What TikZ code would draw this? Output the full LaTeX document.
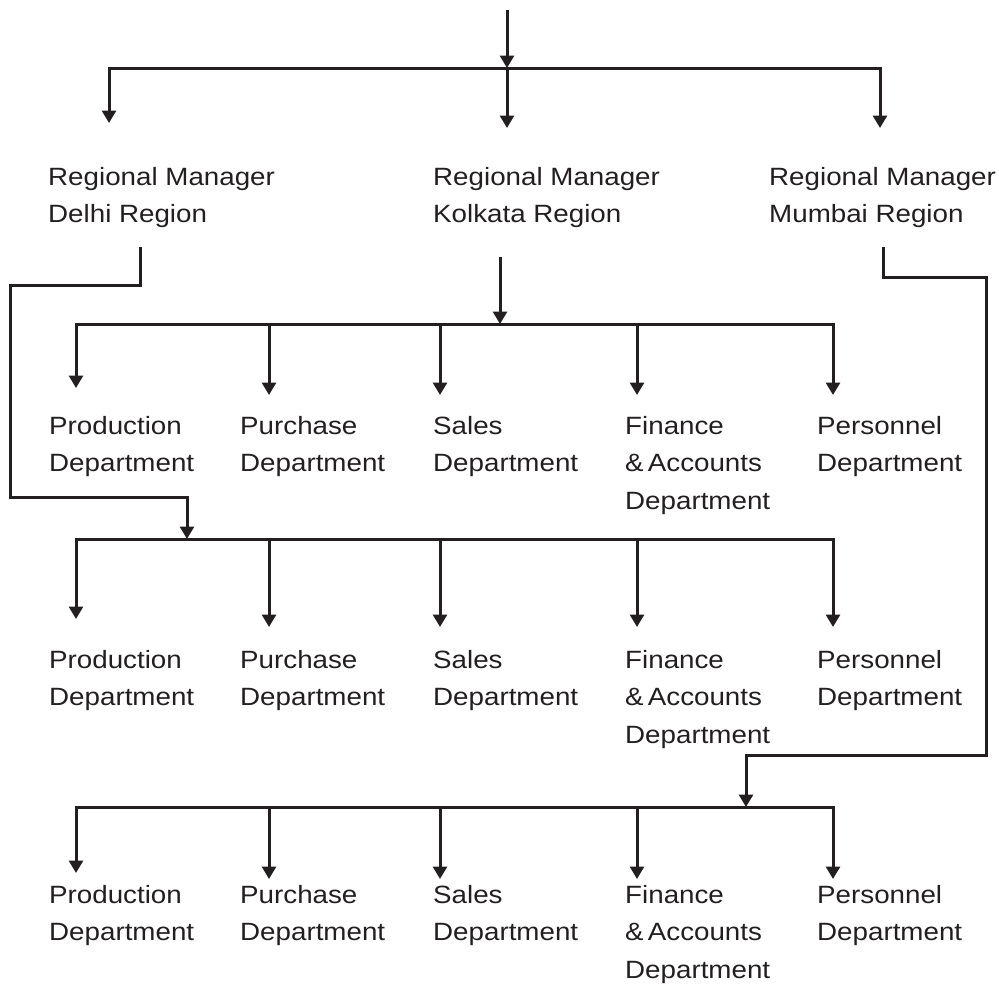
\documentclass[tikz,border=0pt]{standalone}
\usepackage{fontspec}
\setmainfont{Liberation Sans}[FakeStretch=1.11]
\usetikzlibrary{arrows.meta}
\definecolor{ink}{HTML}{231F20}

\begin{document}
\begin{tikzpicture}[x=1pt,y=-1pt,
  conn/.style={line width=3pt, draw=ink, line join=miter},
  arr/.style={conn, -{Triangle[width=14pt,length=12.5pt]}},
  lbl/.style={anchor=north west, inner sep=0pt, align=left,
              font=\fontsize{25}{37.5}\selectfont, text=ink}]
\useasboundingbox (0,0) rectangle (999,983);

% regional managers
\node[lbl] (rmD) at (48,167) {Regional Manager\\Delhi Region};
\node[lbl] (rmK) at (433,167) {Regional Manager\\Kolkata Region};
\node[lbl] (rmM) at (769,167) {Regional Manager\\Mumbai Region};

% departments under each region
\foreach \r/\yt in {a/416, b/650, c/885} {
  \node[lbl] (prod\r) at (49,\yt)  {Production\\Department};
  \node[lbl] (purc\r) at (240,\yt) {Purchase\\Department};
  \node[lbl] (sale\r) at (433,\yt) {Sales\\Department};
  \node[lbl] (fina\r) at (625,\yt) {Finance\\\&\,Accounts\\Department};
  \node[lbl] (pers\r) at (817,\yt) {Personnel\\Department};
}

% top level to the three regions
\coordinate (src)  at (507,10);
\coordinate (busT) at (507,68);
\coordinate (inD)  at (109,123);
\coordinate (inK)  at (507,128);
\coordinate (inM)  at (880,128);
\draw[arr] (src) -- (busT);
\draw[arr] (busT) -| (inD);
\draw[arr] (busT) -- (inK);
\draw[arr] (busT) -| (inM);

% feeds from the regional managers to their department buses
\coordinate (outK) at (500,257);
\coordinate (busA) at (500,324);
\draw[arr] (outK) -- (busA);

\coordinate (outD) at (140,247);
\coordinate (busB) at (187,539);
\draw[arr] (outD) |- (10,285) |- (187,497) -- (busB);

\coordinate (outM) at (883,247);
\coordinate (busC) at (746,807);
\draw[arr] (outM) |- (986,277) |- (746,755) -- (busC);

% department buses
\foreach \bus/\yf/\yo in {busA/388/395, busB/619/627, busC/873/879} {
  \draw[arr] (\bus) -| (76,\yf);
  \foreach \xx in {269,440,637,833}
    \draw[arr] (\bus) -| (\xx,\yo);
}
\end{tikzpicture}
\end{document}
